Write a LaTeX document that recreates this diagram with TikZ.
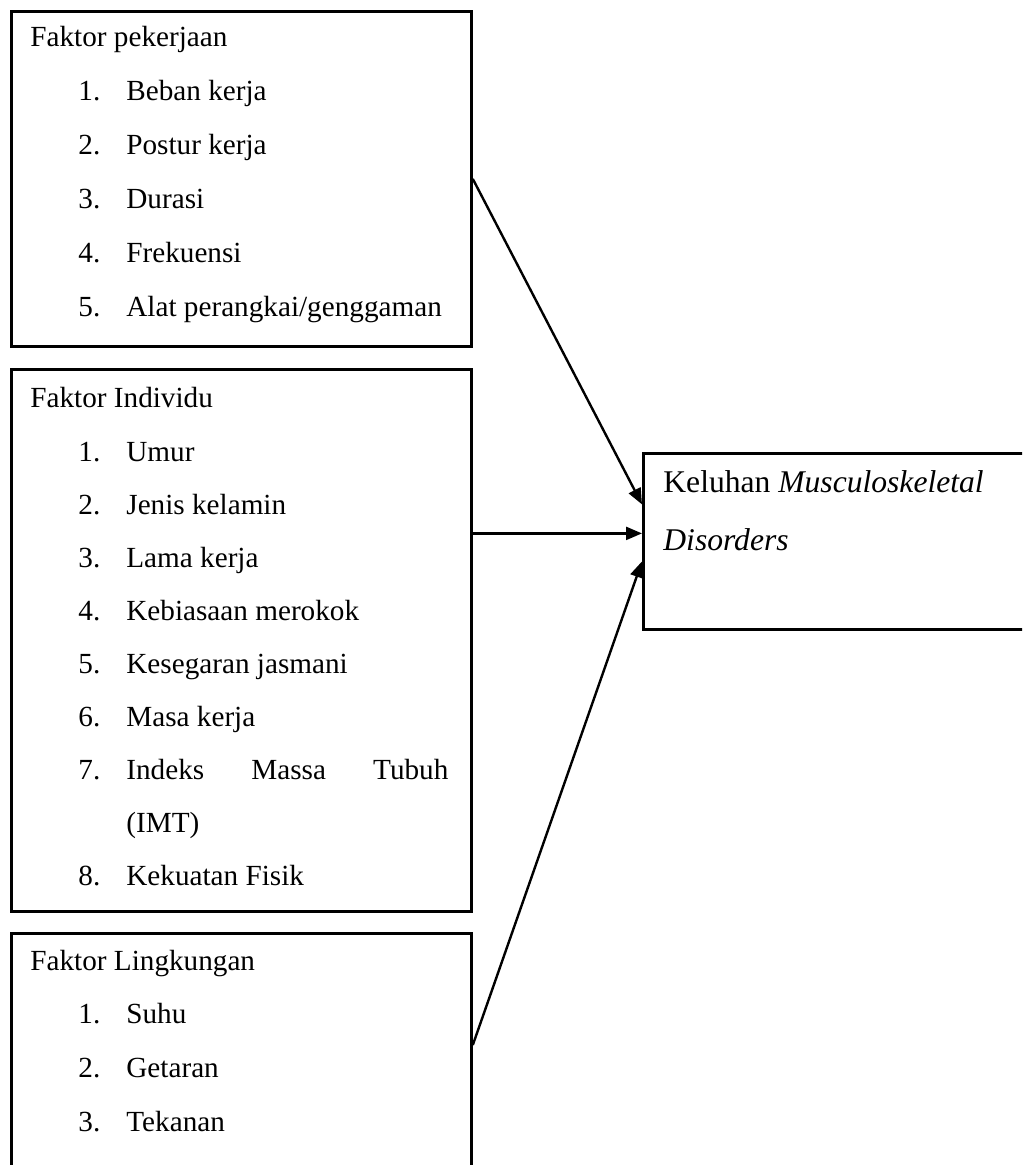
\documentclass[tikz,border=0pt]{standalone}
\usepackage{fontspec}
\setmainfont{Liberation Serif}
\usetikzlibrary{arrows.meta,positioning}

\tikzset{
  box/.style={draw,line width=1.4pt,anchor=north west,inner sep=0pt},
  txt/.style={anchor=base west,inner sep=0pt,font=\fontsize{14.6}{17}\selectfont},
  bigtxt/.style={txt,font=\fontsize{15.8}{18}\selectfont},
  arr/.style={-{Triangle[length=8pt,width=6.5pt]},line width=1.2pt},
}

\begin{document}
\begin{tikzpicture}[x=0.5pt,y=-0.5pt]
  \useasboundingbox (0,0) rectangle (1022,1165);
  \clip (0,0) rectangle (1022,1165);
  % boxes
  \node[box,minimum width=230pt,minimum height=167.5pt] (kerja) at (10,10) {};
  \node[box,minimum width=230pt,minimum height=271pt] (indiv) at (10,368) {};
  \node[box,minimum width=230pt,minimum height=150pt] (lingk) at (10,932) {};
  \node[box,minimum width=209pt,minimum height=88pt] (keluhan) at (642,452) {};
  % faktor pekerjaan
  \node[txt] (kerja-h) at (30,47) {Faktor pekerjaan};
  \foreach \t [count=\n] in {Beban kerja,Postur kerja,Durasi,Frekuensi,Alat perangkai/genggaman} {
    \node[txt] (kerja-no\n) at (78,{47+54*\n}) {\n.};
    \node[txt] (kerja-t\n) at (126,{47+54*\n}) {\t};
  }
  % faktor individu
  \node[txt] (indiv-h) at (30,408) {Faktor Individu};
  \foreach \t [count=\n] in {Umur,Jenis kelamin,Lama kerja,Kebiasaan merokok,Kesegaran jasmani,Masa kerja} {
    \node[txt] (indiv-no\n) at (78,{408+53*\n}) {\n.};
    \node[txt] (indiv-t\n) at (126,{408+53*\n}) {\t};
  }
  \node[txt] (indiv-no7) at (78,779) {7.};
  \node[txt] (indiv-t7) at (126,779) {\makebox[161pt][s]{Indeks\hfill Massa\hfill Tubuh}};
  \node[txt] (indiv-t7b) at (126,832) {(IMT)};
  \node[txt] (indiv-no8) at (78,885) {8.};
  \node[txt] (indiv-t8) at (126,885) {Kekuatan Fisik};
  % faktor lingkungan
  \node[txt] (lingk-h) at (30,970) {Faktor Lingkungan};
  \foreach \t [count=\n] in {Suhu,Getaran,Tekanan} {
    \node[txt] (lingk-no\n) at (78,{970+53.7*\n}) {\n.};
    \node[txt] (lingk-t\n) at (126,{970+53.7*\n}) {\t};
  }
  % keluhan
  \node[bigtxt] (kel-1) at (663,492) {Keluhan \textit{Musculoskeletal}};
  \node[bigtxt] (kel-2) at (663,550) {\textit{Disorders}};
  % arrows
  \coordinate (kel-in) at ([yshift=4pt]keluhan.west);
  \draw[arr] (kerja.east) -- ([yshift=18.5pt]keluhan.west);
  \draw[arr] (indiv.east |- kel-in) -- (kel-in);
  \draw[arr] ([yshift=-56.5pt]lingk.north east) -- ([yshift=-10pt]keluhan.west);
\end{tikzpicture}
\end{document}
